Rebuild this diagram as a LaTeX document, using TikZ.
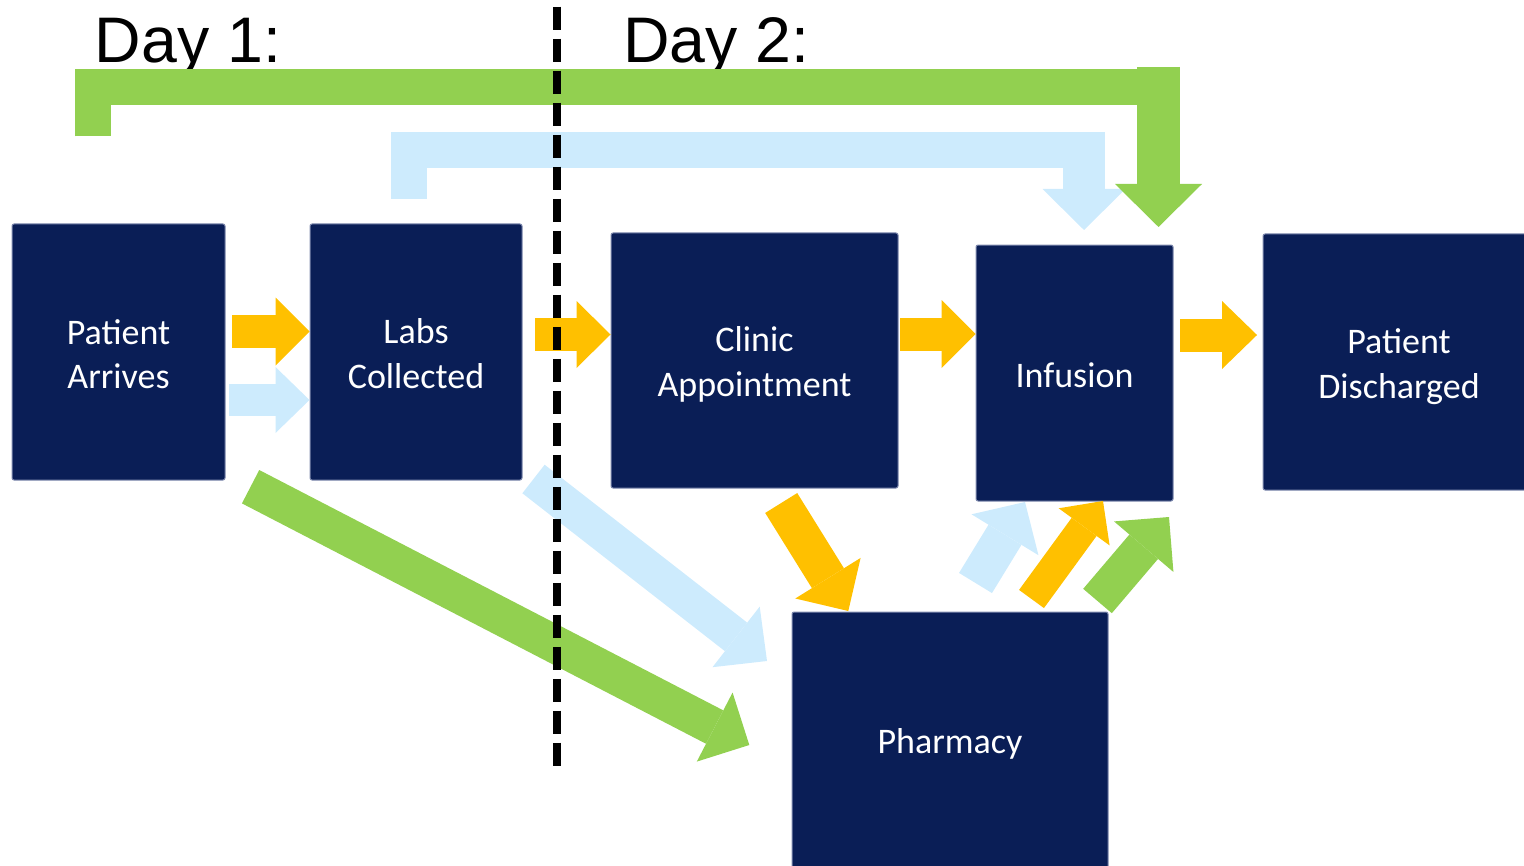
\documentclass[tikz,border=0pt]{standalone}
\usepackage{fontspec}
\setmainfont{Carlito}
\newfontfamily\dayfont{Liberation Sans}
\usetikzlibrary{arrows.meta}
\definecolor{navy}{HTML}{0A1E56}
\definecolor{navyedge}{HTML}{7F8AAE}
\definecolor{aorange}{HTML}{FFC000}
\definecolor{agreen}{HTML}{92D050}
\definecolor{ablue}{HTML}{CDEBFD}
\begin{document}
\begin{tikzpicture}[x=0.5pt,y=-0.5pt,
  box/.style={fill=navy,draw=navyedge,line width=0.5pt,rounded corners=1pt,inner sep=0pt},
  btext/.style={text=white,align=center,inner sep=0pt,
    font=\fontsize{18}{22.3}\selectfont},
  barrow/.style n args={4}{draw=#1,line width=#2,line cap=butt,
    -{Triangle[width=#3,length=#4,line width=0pt]}},
  band/.style n args={2}{draw=#1,line width=#2,line join=miter,line cap=butt},
  daylabel/.style={font=\dayfont\fontsize{32.2}{38}\selectfont,inner sep=0pt,anchor=base west},
  divider/.style={draw=black,line width=3.85pt,dash pattern=on 11.75pt off 4.25pt}]
\useasboundingbox (0,0) rectangle (1524,866);
\begin{scope}
\clip (0,0) rectangle (1524,866);

% boxes
\node[box,minimum width=106.5pt,minimum height=128pt] (pa) at (118.5,352) {};
\node[box,minimum width=106pt,minimum height=128pt] (lc) at (416,352) {};
\node[box,minimum width=143.5pt,minimum height=127.5pt] (ca) at (754.5,360.5) {};
\node[box,minimum width=98.5pt,minimum height=128pt] (inf) at (1074.5,373) {};
\node[box,minimum width=136pt,minimum height=128pt] (pd) at (1399,362) {};
\node[box,minimum width=158pt,minimum height=130pt] (ph) at (950,742) {};

% box texts
\node[btext,yshift=-1pt] (tpa) at (pa.center) {Patient\\Arrives};
\node[btext,yshift=-0.9pt] (tlc) at (lc.center) {Labs\\Collected};
\node[btext,yshift=-2pt] (tca) at (ca.center) {Clinic\\Appointment};
\node[btext,yshift=-1pt] (tinf) at (inf.center) {Infusion};
\node[btext,yshift=-2.2pt] (tpd) at (pd.center) {Patient\\Discharged};
\node[btext,yshift=-1pt] (tph) at (ph.center) {Pharmacy};

% day labels
\node[daylabel] (d1) at (94.5,62.3) {Day 1:};
\node[daylabel] (d2) at (623,62.3) {Day 2:};

% top bracket arrows
\draw[band={ablue}{18pt}] (408.5,199) -- (408.5,150) -- (1090,150);
\draw[barrow={ablue}{21pt}{41.5pt}{20.5pt}] (1084,132) -- (1084,230);
\draw[band={agreen}{18pt}] (92.5,136.5) -- (92.5,87) -- (1160,87);
\draw[barrow={agreen}{21.5pt}{43.5pt}{21.5pt}] (1158.5,67) -- (1158.5,227);

% horizontal arrows
\draw[barrow={aorange}{16.5pt}{34pt}{17pt}] (232,331.5) -- (lc.west |- 0,331.5);
\draw[barrow={ablue}{16pt}{33pt}{17pt}] (229,400) -- (lc.west |- 0,400);
\draw[barrow={aorange}{16.5pt}{33.5pt}{17pt}] (535,334.5) -- (ca.west |- 0,334.5);
\draw[barrow={aorange}{16.5pt}{34pt}{17pt}] (900,334) -- (inf.west |- 0,334);
\draw[barrow={aorange}{16.5pt}{34pt}{17.5pt}] (1180,335) -- (1257,335);

% diagonal arrows into pharmacy
\draw[barrow={agreen}{18.8pt}{38.9pt}{19.5pt}] (250.6,486.7) -- (749.3,745);
\draw[barrow={ablue}{18.1pt}{38.4pt}{19.6pt}] (533.5,479) -- (767,661);
\draw[barrow={aorange}{18.85pt}{38.45pt}{19.3pt}] (781.2,503) -- (848.3,611);

% pharmacy to infusion
\draw[barrow={ablue}{19.3pt}{39.25pt}{19.2pt}] (975.5,583) -- (1025,502);
\draw[barrow={aorange}{15.4pt}{31.5pt}{16pt}] (1031.5,599) -- (1103,501);
\draw[barrow={agreen}{18.8pt}{39pt}{19.5pt}] (1097.5,601) -- (1169,517);

% day divider
\coordinate (dtop) at (556.8,6.7);
\coordinate (dbot) at (556.8,766.5);
\draw[divider] (dtop) -- (dbot);
\end{scope}
\end{tikzpicture}
\end{document}
